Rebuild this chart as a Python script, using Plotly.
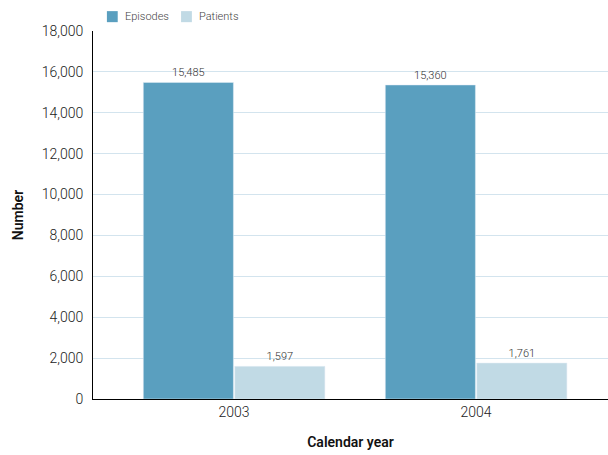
import plotly.graph_objects as go

years = ["2003", "2004"]
episodes = [15485, 15360]
patients = [1597, 1761]
series_names = ["Episodes", "Patients"]

c_ep = "#5a9fbf"
c_pt = "#c1dae5"
font_family = "Roboto, 'Noto Sans', sans-serif"
light = dict(family=font_family, weight=300)

fig = go.Figure()
fig.add_trace(go.Bar(
    name=series_names[0], x=years, y=episodes, marker_color=c_ep,
    text=[f"{v:,}" for v in episodes], textposition="outside",
    textfont=dict(size=11, color="#333333", **light), cliponaxis=False,
))
fig.add_trace(go.Bar(
    name=series_names[1], x=years, y=patients, marker_color=c_pt,
    text=[f"{v:,}" for v in patients], textposition="outside",
    textfont=dict(size=11, color="#333333", **light), cliponaxis=False,
))

# compact legend: small swatches with labels above the plot area
swatch_x = [0.027, 0.171]
for name, color, x0 in zip(series_names, [c_ep, c_pt], swatch_x):
    fig.add_shape(type="rect", xref="paper", yref="paper",
                  x0=x0, x1=x0 + 0.021, y0=1.024, y1=1.054,
                  fillcolor=color, line_width=0)
    fig.add_annotation(xref="paper", yref="paper", x=x0 + 0.031, y=1.039,
                       text=name, showarrow=False, xanchor="left", yanchor="middle",
                       font=dict(size=11, color="#444444", **light))

fig.update_layout(
    width=608, height=455,
    margin=dict(l=93, r=0, t=31, b=56),
    paper_bgcolor="white", plot_bgcolor="white",
    font=dict(family=font_family, color="#222222"),
    barmode="group", bargap=0.244, bargroupgap=0.015,
    showlegend=False,
    xaxis=dict(
        type="category", range=[-0.583, 1.545],
        showline=True, linecolor="#000000", linewidth=1,
        ticks="", tickfont=dict(size=14, color="#222222", **light),
        title=dict(text="Calendar year", font=dict(size=14, color="#111111", family=font_family, weight=600), standoff=18),
    ),
    yaxis=dict(
        range=[0, 18000], dtick=2000, tickformat=",d",
        showline=True, linecolor="#000000", linewidth=1,
        gridcolor="#d3e4ee", gridwidth=1, zeroline=False,
        ticks="", ticklabelstandoff=6,
        tickfont=dict(size=14, color="#222222", **light),
        title=dict(text="Number", font=dict(size=14, color="#111111", family=font_family, weight=600), standoff=14),
    ),
)

fig.write_html("out.html")
